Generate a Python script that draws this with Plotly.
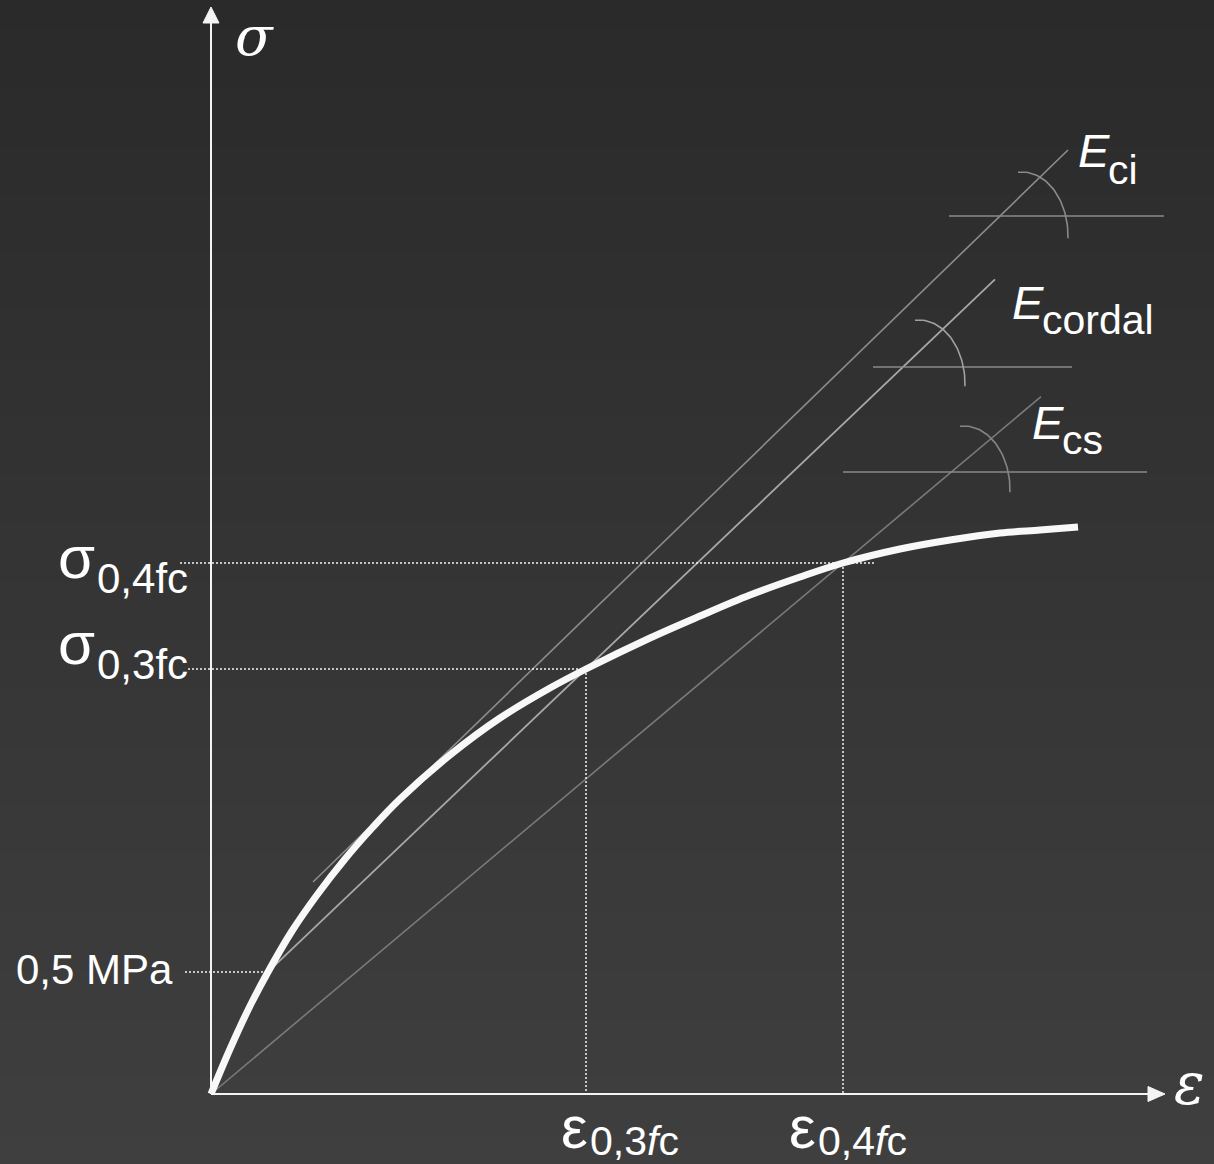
import numpy as np
import plotly.graph_objects as go

# ---- stress-strain curve of concrete (arbitrary units, origin at 0,0) ----
strain = [0.00, 0.19, 0.39, 0.57, 0.81, 1.06, 1.34, 1.62, 1.89, 2.39, 2.89,
          3.39, 3.75, 4.39, 4.89, 5.39, 5.89, 6.32, 6.89, 7.39, 7.89, 8.29, 8.67]
stress = [0.00, 0.45, 0.88, 1.22, 1.63, 1.99, 2.35, 2.67, 2.95, 3.39, 3.76,
          4.06, 4.25, 4.56, 4.78, 4.99, 5.17, 5.31, 5.45, 5.54, 5.61, 5.64, 5.67]

# characteristic points
sig_05mpa, eps_05mpa = 1.22, 0.57
eps_03, sig_03 = 3.75, 4.25
eps_04, sig_04 = 6.32, 5.31

# modulus lines
eci_intercept, eci_slope = 1.131, 0.9695      # initial tangent
eci_range = [1.02, 8.57]
cordal_range = [0.51, 7.84]                    # chord 0.5 MPa -> 0.3 fc
ecs_range = [0.0, 8.30]                        # secant origin -> 0.4 fc

# angle markers: horizontal reference levels and strain extents
ref_levels = {"ci": (8.78, 7.38, 9.53), "cordal": (7.27, 6.62, 8.61), "cs": (6.22, 6.32, 9.36)}
arc_centres = {"ci": (8.11, 8.58), "cordal": (7.08, 7.10), "cs": (7.53, 6.04)}

WHITE = "#f4f4f4"
TXT = "#ffffff"

# plot area maps 100 px per unit; origin sits at pixel (211, 1094)
def px(x):
    return (x - 211) / 100.0

def py(y):
    return (1094 - y) / 100.0

X0, X1 = px(0), px(1214)
Y0, Y1 = py(1164), py(0)

fig = go.Figure()

# background: soft vertical gradient
n_rows = 120
y_edges = np.linspace(Y0, Y1, n_rows + 1)
y_mid = (y_edges[:-1] + y_edges[1:]) / 2
fig.add_trace(go.Heatmap(
    x=[X0 - 0.1, X1 + 0.1], y=y_edges, z=y_mid.reshape(-1, 1),
    colorscale=[[0, "#3f3f3f"], [1, "#2a2a2a"]], showscale=False,
    hoverinfo="skip"))

def seg(xs, ys, color, width, dash=None):
    fig.add_trace(go.Scatter(x=xs, y=ys, mode="lines", hoverinfo="skip",
                             line=dict(color=color, width=width, dash=dash)))

# modulus lines
e = np.array(eci_range)
seg(e, eci_intercept + eci_slope * e, "#8c8c8c", 1.6)
cord_slope = (sig_03 - sig_05mpa) / (eps_03 - eps_05mpa)
e = np.array(cordal_range)
seg(e, sig_05mpa + cord_slope * (e - eps_05mpa), "#a8a8a8", 1.8)
e = np.array(ecs_range)
seg(e, sig_04 / eps_04 * e, "#7a7a7a", 1.6)

# horizontal references and angle arcs
arc_colors = {"ci": "#8a8a8a", "cordal": "#a0a0a0", "cs": "#858585"}
for key, (lvl, a, b) in ref_levels.items():
    seg([a, b], [lvl, lvl], "#8a8a8a", 1.6)
    cx, cy = arc_centres[key]
    t = np.radians(np.linspace(95, -2, 40))
    seg(cx + 0.46 * np.cos(t), cy + 0.64 * np.sin(t), arc_colors[key], 1.6)

# dotted guides
DOT = "2px,2px"
seg([px(180), px(875)], [sig_04, sig_04], WHITE, 1.5, DOT)
seg([px(188), eps_03], [sig_03, sig_03], WHITE, 1.5, DOT)
seg([px(185), eps_05mpa - 0.03], [sig_05mpa, sig_05mpa], WHITE, 1.5, DOT)
seg([eps_03, eps_03], [sig_03, 0], WHITE, 1.5, DOT)
seg([eps_04, eps_04], [sig_04, 0], WHITE, 1.5, DOT)

# axes with arrowheads
seg([0, 0], [0, 10.74], WHITE, 2)
seg([0, 9.40], [0, 0], WHITE, 2)
fig.add_trace(go.Scatter(x=[-0.08, 0.0, 0.08, -0.08], y=[10.71, 10.87, 10.71, 10.71],
                         fill="toself", fillcolor=WHITE, mode="lines",
                         line=dict(color=WHITE, width=1), hoverinfo="skip"))
fig.add_trace(go.Scatter(x=[9.37, 9.54, 9.37, 9.37], y=[0.075, 0.0, -0.075, 0.075],
                         fill="toself", fillcolor=WHITE, mode="lines",
                         line=dict(color=WHITE, width=1), hoverinfo="skip"))

# stress-strain curve
fig.add_trace(go.Scatter(x=strain, y=stress, mode="lines", hoverinfo="skip",
                         line=dict(color="#f8f8f8", width=7, shape="spline", smoothing=1.0)))

SANS = "Liberation Sans"
SERIF = "DejaVu Serif"

def label(text, x, y, size, family=SANS, xanchor="left", yanchor="middle"):
    fig.add_annotation(x=px(x), y=py(y), text=text, showarrow=False,
                       xanchor=xanchor, yanchor=yanchor,
                       font=dict(family=family, size=size, color=TXT))

# axis symbols
label("<i>σ</i>", 233, 36, 55, SERIF)
label("<i>ε</i>", 1172, 1084, 57, SERIF)

# stress levels
label("σ", 56, 557, 60)
label("0,4fc", 95, 578, 42)
label("σ", 56, 643, 60)
label("0,3fc", 95, 664, 42)
label("0,5 MPa", 175, 969, 42, xanchor="right")

# strain levels
label("ε", 559, 1127, 60)
label("0,3<i>f</i>c", 588, 1141, 41)
label("ε", 787, 1127, 60)
label("0,4<i>f</i>c", 816, 1141, 41)

# modulus names
label("<i>E</i>", 1076, 150, 47)
label("ci", 1106, 170, 41)
label("<i>E</i>", 1010, 302, 47)
label("cordal", 1040, 320, 41)
label("<i>E</i>", 1030, 422, 47)
label("cs", 1060, 440, 41)

fig.update_layout(
    width=1214, height=1164, margin=dict(l=0, r=0, t=0, b=0),
    paper_bgcolor="#2a2a2a", plot_bgcolor="#2a2a2a", showlegend=False,
    xaxis=dict(range=[X0, X1], visible=False, fixedrange=True),
    yaxis=dict(range=[Y0, Y1], visible=False, fixedrange=True),
)

fig.write_html("out.html")
